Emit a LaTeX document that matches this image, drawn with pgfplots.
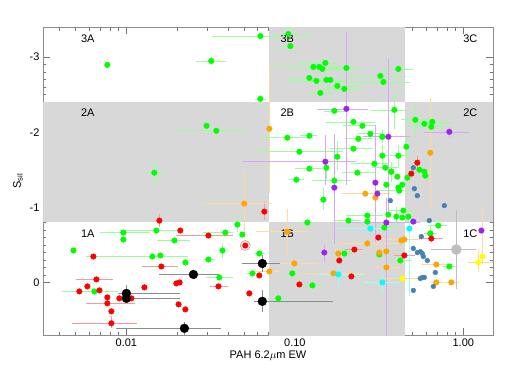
\documentclass[border=0pt]{standalone}
\usepackage{pgfplots}
\usepackage{pgfplotstable}
\pgfplotsset{compat=1.18}
\usepackage{fontspec}
\setmainfont{Liberation Sans}

\definecolor{pgreen}{RGB}{0,255,0}
\definecolor{pred}{RGB}{255,0,0}
\definecolor{porange}{RGB}{255,165,0}
\definecolor{ppurple}{RGB}{160,32,240}
\definecolor{pcyan}{RGB}{0,255,255}
\definecolor{pblue}{RGB}{70,130,180}
\definecolor{pyellow}{RGB}{255,255,0}
\definecolor{pgray}{RGB}{190,190,190}
\definecolor{boxgray}{RGB}{216,216,216}

% columns: x y xlo xhi ylo yhi
\pgfplotstableread{
x y xlo xhi ylo yhi
0.0319 -2.948 0.0267 0.0377 -2.975 -2.922
0.0624 -3.280 0.0333 0.0766 -3.280 -3.280
0.0914 -3.307 0.0766 0.1202 -3.307 -3.307
0.0940 -3.147 0.0843 0.1021 -3.147 -3.147
0.0624 -2.444 0.0599 0.0650 -2.470 -2.418
0.0342 -2.019 0.0198 0.0481 -2.019 -2.019
0.01466 -1.461 0.01349 0.01614 -1.607 -1.315
0.1517 -2.922 0.1078 0.1738 -2.922 -2.922
0.1288 -2.869 0.0766 0.2135 -2.869 -2.869
0.1397 -2.869 0.1078 0.1738 -2.869 -2.869
0.1456 -2.842 0.1236 0.1862 -2.842 -2.842
0.2023 -2.855 0.1625 0.2449 -2.855 -2.855
0.1219 -2.722 0.0927 0.1625 -2.722 -2.722
0.1343 -2.683 0.0940 0.1995 -2.683 -2.683
0.1538 -2.696 0.1236 0.1995 -2.696 -2.696
0.1625 -2.696 0.1380 0.1995 -2.696 -2.696
0.1787 -2.616 0.1581 0.2351 -2.616 -2.616
0.1968 -2.576 0.1476 0.2351 -2.576 -2.576
0.1416 -2.523 0.1236 0.1671 -2.523 -2.523
0.3218 -2.749 0.2051 0.4405 -2.749 -2.749
0.3352 -2.669 0.2135 0.4652 -2.669 -2.669
0.4114 -2.842 0.3444 0.4847 -2.842 -2.842
0.1716 -2.284 0.1538 0.1914 -2.284 -2.284
0.3896 -2.297 0.2925 0.4405 -2.523 -2.072
0.5188 -2.165 0.4405 0.6368 -2.364 -1.965
0.5867 -2.112 0.4652 0.8400 -2.112 -2.112
0.6545 -2.138 0.5632 0.7800 -2.138 -2.138
0.6456 -2.072 0.5188 0.7800 -2.072 -2.072
0.0902 -1.926 0.0650 0.1154 -1.926 -1.926
0.1219 -1.952 0.1109 0.1306 -1.952 -1.952
0.1064 -1.740 0.0607 0.1862 -1.740 -1.740
0.1219 -1.514 0.1035 0.1416 -1.514 -1.514
0.1021 -1.368 0.0953 0.1093 -1.368 -1.368
0.1538 -1.527 0.1538 0.1538 -1.607 -1.408
0.1787 -1.673 0.1787 0.1787 -1.859 -1.527
0.2226 -1.780 0.1671 0.2807 -1.780 -1.780
0.2382 -1.912 0.2051 0.2807 -1.912 -1.912
0.2226 -2.138 0.1581 0.2885 -2.138 -2.138
0.2517 -2.085 0.1995 0.2885 -2.085 -2.085
0.2807 -1.979 0.2449 0.3218 -1.979 -1.979
0.3307 -1.687 0.3307 0.3307 -1.806 -1.567
0.3307 -1.939 0.2807 0.3896 -2.000 -1.880
0.2965 -1.580 0.2226 0.3444 -1.580 -1.580
0.3444 -1.527 0.2965 0.4004 -1.527 -1.527
0.3739 -1.474 0.3739 0.3739 -1.580 -1.370
0.4114 -1.687 0.3492 0.4652 -1.800 -1.580
0.4589 -1.806 0.4589 0.4589 -1.930 -1.700
0.2351 -1.461 0.1968 0.2885 -1.461 -1.461
0.1716 -1.355 0.1306 0.2080 -1.355 -1.355
0.4170 -1.222 0.3132 0.4652 -1.222 -1.222
0.4405 -0.956 0.3700 0.5200 -0.956 -0.956
0.4004 -0.876 0.4004 0.4004 -0.980 -0.780
0.2694 -0.890 0.2080 0.3218 -0.890 -0.890
0.2080 -0.823 0.1787 0.2385 -0.823 -0.823
0.3398 -0.730 0.2807 0.4004 -0.730 -0.730
0.7104 -0.757 0.6368 0.7711 -0.757 -0.757
0.6368 -0.651 0.6000 0.6800 -0.720 -0.580
0.1968 -0.385 0.1811 0.2135 -0.385 -0.385
0.8259 -0.212 0.7700 0.8800 -0.212 -0.212
0.4227 -0.292 0.3600 0.4800 -0.292 -0.292
0.1476 -1.102 0.1476 0.1476 -1.222 -0.996
0.1186 -0.797 0.1109 0.1271 -0.797 -0.797
0.0615 -0.385 0.0592 0.0641 -0.385 -0.385
0.0560 -0.120 0.0537 0.0599 -0.120 -0.120
0.1271 0.040 0.1109 0.1436 0.040 0.040
0.0798 0.212 0.0716 0.0891 0.212 0.212
0.0456 -0.770 0.0456 0.0456 -0.850 -0.700
0.0096 -0.664 0.00721 0.01349 -0.664 -0.664
0.01507 -0.691 0.00946 0.0209 -0.691 -0.691
0.0387 -0.664 0.0294 0.0414 -0.664 -0.664
0.0193 -0.558 0.0157 0.0230 -0.558 -0.558
0.0372 -0.425 0.0372 0.0372 -0.491 -0.359
0.01426 -0.345 0.00595 0.0224 -0.345 -0.345
0.0307 -0.305 0.0294 0.0324 -0.305 -0.305
0.0356 -0.066 0.0307 0.0414 -0.066 -0.066
0.00646 0.120 0.00429 0.00861 0.120 0.120
}\greenbars

\pgfplotstableread{
x y xlo xhi ylo yhi
0.0157 -0.823 0.0157 0.0157 -0.876 -0.770
0.0307 -0.624 0.0204 0.0414 -0.624 -0.624
0.01614 -0.212 0.0128 0.01954 -0.212 -0.212
0.00664 -0.040 0.00519 0.00804 -0.040 -0.040
0.0352 0.053 0.0324 0.0387 0.053 0.053
0.00771 0.279 0.00595 0.01087 0.279 0.279
0.00815 0.544 0.00491 0.01115 0.478 0.584
0.0659 -0.943 0.0659 0.0659 -1.036 -0.863
0.2257 -0.438 0.2051 0.2449 -0.438 -0.438
0.6456 -0.584 0.5632 0.7301 -0.584 -0.584
0.5332 -1.594 0.5332 0.5332 -1.660 -1.520
0.4466 -0.359 0.4000 0.5000 -0.359 -0.359
}\redbars

\pgfplotstableread{
x y xlo xhi ylo yhi
0.0250 -0.106 0.01614 0.0342 -0.106 -0.106
0.0100 0.146 0.00921 0.0201 0.066 0.226
0.0100 0.212 0.00921 0.0201 0.212 0.212
0.0221 0.611 0.00897 0.0352 0.550 0.680
0.0641 -0.252 0.0501 0.0787 -0.330 -0.170
0.0641 0.252 0.0592 0.1625 0.133 0.359
}\blackbars

\pgfplotstableread{
x y xlo xhi ylo yhi
0.9089 -0.438 0.6635 1.146 -0.930 0.053
}\graybars

\pgfplotstableread{
x y xlo xhi ylo yhi
0.0501 -1.049 0.0294 0.0697 -1.461 -0.637
0.0706 -2.045 0.0706 0.0706 -2.855 -1.222
0.6368 -1.726 0.6200 0.6540 -2.430 -1.036
0.0902 -0.677 0.0607 0.1202 -0.943 -0.398
0.2621 -1.182 0.1941 0.3540 -1.182 -1.182
0.2694 -0.518 0.1862 0.4058 -0.518 -0.518
0.4466 -0.571 0.3600 0.5500 -0.571 -0.571
0.0993 -0.252 0.0798 0.1306 -0.252 -0.252
0.0706 -0.146 0.0607 0.0798 -0.146 -0.146
0.1692 -0.120 0.1078 0.2551 -0.120 -0.120
0.3492 -0.199 0.3006 0.4227 -0.199 -0.199
0.6913 -0.239 0.5800 0.8400 -0.239 -0.239
0.6913 0.000 0.6500 0.7500 0.000 0.000
0.8488 0.000 0.8000 0.9100 0.000 0.000
}\orangebars

\pgfplotstableread{
x y xlo xhi ylo yhi
0.2023 -2.311 0.1397 0.2621 -3.307 -1.328
0.3588 -1.939 0.2621 0.4652 -2.948 -0.930
0.8259 -2.005 0.6030 1.056 -2.040 -1.970
0.1517 -1.607 0.0508 0.2226 -1.939 -1.328
0.1716 -1.262 0.1716 0.1716 -1.952 -0.544
0.3006 -1.328 0.3006 0.3006 -2.072 -0.571
0.3492 -0.797 0.2135 0.5332 -1.100 0.800
0.1496 -0.398 0.1496 0.1496 -0.470 -0.305
}\purplebars

\pgfplotstableread{
x y xlo xhi ylo yhi
0.2807 -0.717 0.1787 0.3600 -0.717 -0.717
0.4781 -0.717 0.4781 0.4781 -0.900 0.150
0.1811 -0.106 0.1416 0.2449 -0.200 0.053
0.3307 0.000 0.2621 0.4114 -0.080 0.080
}\cyanbars

\pgfplotstableread{
x y xlo xhi ylo yhi
0.4345 -0.053 0.3352 0.5788 -0.053 -0.053
1.227 -0.266 1.100 1.450 -0.400 -0.170
1.297 -0.345 1.297 1.297 -1.000 -0.280
}\yellowbars

\pgfplotsset{
  dot/.style={only marks, mark=*, mark size=2.8pt, mark options={draw=#1, fill=#1}},
  ebar/.style={error bars/.cd, x dir=both, y dir=both, x explicit, y explicit,
    error bar style={draw=#1!40!white, line width=0.6pt},
    error mark options={draw=#1!40!white, line width=0.6pt, mark size=2.2pt}},
  table/eb/.style={x=x, y=y,
    x error plus expr=\thisrow{xhi}-\thisrow{x},
    x error minus expr=\thisrow{x}-\thisrow{xlo},
    y error plus expr=\thisrow{yhi}-\thisrow{y},
    y error minus expr=\thisrow{y}-\thisrow{ylo}},
}

\begin{document}
\begin{tikzpicture}[font=\fontsize{11}{13}\selectfont]
\path[use as bounding box] (-43pt,-41pt) rectangle (467pt,335pt);
\begin{axis}[
  at={(0pt,0pt)}, anchor=south west,
  scale only axis, width=450pt, height=308pt,
  xmode=log, xmin=0.0032, xmax=1.5,
  ymin=-3.4, ymax=0.7, y dir=reverse,
  xtick={0.01,0.1,1}, xticklabels={0.01,0.10,1.00},
  minor xtick={0.004,0.005,0.006,0.007,0.008,0.009,0.02,0.03,0.04,0.05,0.06,0.07,0.08,0.09,0.2,0.3,0.4,0.5,0.6,0.7,0.8,0.9},
  ytick={-3,-2,-1,0}, yticklabels={-3,-2,-1,0},
  minor y tick num=9,
  major tick length=7pt, minor tick length=3.5pt,
  tick style={black!55, line width=0.5pt},
  axis line style={black!45, line width=0.6pt},
  xlabel={PAH 6.2$\mu$m EW}, ylabel={S\textsubscript{sil}},
  xlabel style={yshift=2pt},
  clip=true,
]
% shaded classification boxes
\fill[boxgray] (axis cs:0.07,-3.6) rectangle (axis cs:0.45,-2.4);
\fill[boxgray] (axis cs:0.001,-2.4) rectangle (axis cs:0.07,-0.8);
\fill[boxgray] (axis cs:0.45,-2.4) rectangle (axis cs:10,-0.8);
\fill[boxgray] (axis cs:0.07,-0.8) rectangle (axis cs:0.45,1);

\node at (axis cs:0.0059,-3.25) {3A};
\node at (axis cs:0.0059,-2.26) {2A};
\node at (axis cs:0.0059,-0.65) {1A};
\node at (axis cs:0.0902,-3.25) {3B};
\node at (axis cs:0.0902,-2.26) {2B};
\node at (axis cs:0.0902,-0.65) {1B};
\node at (axis cs:1.10,-3.25) {3C};
\node at (axis cs:1.10,-2.26) {2C};
\node at (axis cs:1.10,-0.65) {1C};

\addplot[dot=pgreen, ebar=pgreen] table[eb] {\greenbars};
\addplot[dot=pgreen] coordinates {
(0.00771,-2.895) (0.0299,-2.085) (0.3492,-1.301) (0.4058,-1.408)
(0.5867,-1.474) (0.5948,-1.421) (0.5480,-1.501) (0.4114,-1.262)
(0.4345,-1.301) (0.4652,-1.394) (0.3588,-0.903) (0.4345,-0.863)
(0.4716,-0.876) (0.2694,-0.810) (0.6368,-0.651) (0.3174,-0.372)
(0.0966,-0.120) (0.0488,-0.637) (0.0096,-0.571) (0.00485,-0.425)
(0.01592,-0.359) (0.0224,-0.266) (0.3307,-1.939) (0.3739,-1.474)
};

\addplot[dot=pred, ebar=pred] table[eb] {\redbars};
\addplot[dot=pred] coordinates {
(0.0209,-0.691) (0.00637,-0.345) (0.0128,0.066) (0.00587,0.053)
(0.00692,0.106) (0.00526,0.120) (0.00771,0.199) (0.00909,0.212)
(0.01072,0.212) (0.0207,0.000) (0.0198,0.013) (0.0204,0.292)
(0.0224,0.359) (0.00815,0.385) (0.0537,0.146) (0.0615,-0.093)
(0.1064,0.027) (0.1836,-0.292) (0.3132,-0.598) (0.2165,-0.080)
(0.4913,-1.448) (0.0508,-0.491)
};
\addplot[only marks, mark=o, mark size=5pt, mark options={draw=pred!50!white, line width=0.6pt}]
  coordinates {(0.0508,-0.491)};

\addplot[dot=porange, ebar=porange] table[eb] {\orangebars};
\addplot[dot=porange] coordinates {
(0.3006,-1.129) (0.4285,-0.558) (0.3174,-0.398) (0.1811,-0.385) (0.3492,-0.412)
};

\addplot[dot=ppurple, ebar=ppurple] table[eb] {\purplebars};
\addplot[dot=ppurple] coordinates {(0.3090,-1.182) (0.5049,-0.810) (1.28,-0.691)};

\addplot[dot=pcyan, ebar=pcyan] table[eb] {\cyanbars};

\addplot[only marks, mark=*, mark size=2.4pt, mark options={draw=pblue, fill=pblue}] coordinates {
(0.5049,-1.527) (0.5118,-1.248) (0.5332,-1.155) (0.3688,-1.089) (0.7711,-1.023)
(0.6282,-0.823) (0.5632,-0.611) (0.5049,-0.452) (0.5332,-0.398) (0.5555,-0.410)
(0.5709,-0.385) (0.5788,-0.345) (0.6112,-0.292) (0.5555,-0.053) (0.5709,-0.066)
(0.5867,-0.066) (0.6635,0.053) (0.6819,-0.133) (0.5049,0.106)
};

\addplot[dot=pyellow, ebar=porange] table[eb] {\yellowbars};

\addplot[only marks, mark=*, mark size=4.4pt, mark options={draw=black, fill=black},
  error bars/.cd, x dir=both, y dir=both, x explicit, y explicit,
  error bar style={draw=black!45, line width=0.6pt},
  error mark options={draw=black!45, line width=0.6pt, mark size=2.2pt}]
  table[eb] {\blackbars};

\addplot[only marks, mark=*, mark size=5pt, mark options={draw=pgray, fill=pgray},
  error bars/.cd, x dir=both, y dir=both, x explicit, y explicit,
  error bar style={draw=pgray, line width=0.8pt},
  error mark options={draw=pgray, line width=0.8pt, mark size=2.5pt}]
  table[eb] {\graybars};
\end{axis}
\end{tikzpicture}
\end{document}
